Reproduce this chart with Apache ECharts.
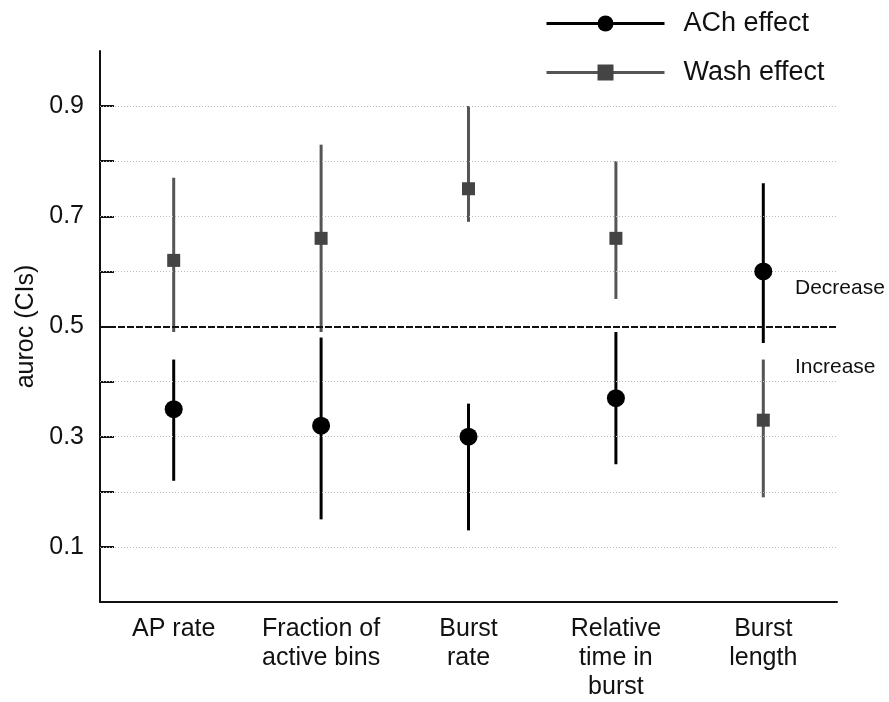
<!DOCTYPE html>
<html>
<head>
<meta charset="UTF-8">
<title>auroc</title>
<script src="https://cdn.jsdelivr.net/npm/echarts@6/dist/echarts.min.js"></script>
<style>
  html, body { margin: 0; padding: 0; background: #fff; }
  #main { width: 889px; height: 702px; }
</style>
</head>
<body>
<div id="main"></div>
<script>
// categories along x
var categories = ['AP rate', 'Fraction of\nactive bins', 'Burst\nrate', 'Relative\ntime in\nburst', 'Burst\nlength'];

// ACh effect: auroc and CI bounds
var achMid  = [0.35, 0.32, 0.30, 0.37, 0.60];
var achLow  = [0.22, 0.15, 0.13, 0.25, 0.47];
var achHigh = [0.44, 0.48, 0.36, 0.49, 0.76];

// Wash effect: auroc and CI bounds
var washMid  = [0.62, 0.66, 0.75, 0.66, 0.33];
var washLow  = [0.49, 0.49, 0.69, 0.55, 0.19];
var washHigh = [0.77, 0.83, 0.90, 0.80, 0.44];

var yTicks = [0.1, 0.2, 0.3, 0.4, 0.5, 0.6, 0.7, 0.8, 0.9];
var yLabels = [0.1, 0.3, 0.5, 0.7, 0.9];
var chance = 0.5;

var FONT = 'Liberation Sans, Arial, sans-serif';

function errBars(low, high) {
    return low.map(function (l, i) { return [i, l, high[i]]; });
}

function barRenderer(color) {
    return function (params, api) {
        var p1 = api.coord([api.value(0), api.value(1)]);
        var p2 = api.coord([api.value(0), api.value(2)]);
        return {
            type: 'line',
            shape: { x1: p1[0], y1: p1[1], x2: p2[0], y2: p2[1] },
            style: { stroke: color, lineWidth: 3 }
        };
    };
}

// dotted grid lines, skipping the chance level (drawn dashed)
var gridLines = yTicks.filter(function (v) { return v !== chance; }).map(function (v) {
    return { yAxis: v };
});

var chart = echarts.init(document.getElementById('main'));

chart.setOption({
    animation: false,
    textStyle: { fontFamily: FONT },
    grid: { left: 100, right: 52, top: 51, bottom: 99 },
    legend: {
        orient: 'vertical',
        left: 540,
        top: 5,
        itemWidth: 118,
        itemHeight: 20,
        itemGap: 22,
        data: ['ACh effect', 'Wash effect'],
        textStyle: { fontSize: 27, color: '#111', fontFamily: FONT, padding: [0, 0, 0, 14] },
        lineStyle: { opacity: 1, width: 3 },
        inactiveColor: '#ccc'
    },
    xAxis: {
        type: 'category',
        data: categories,
        boundaryGap: true,
        axisLine: { lineStyle: { color: '#111', width: 2 } },
        axisTick: { inside: true, alignWithLabel: true, length: 14, lineStyle: { color: '#111', width: 2 } },
        axisLabel: { color: '#111', fontSize: 25, lineHeight: 29, margin: 13, fontFamily: FONT, interval: 0 },
        splitLine: { show: false }
    },
    yAxis: {
        type: 'value',
        min: 0,
        max: 1,
        interval: 0.1,
        name: 'auroc (CIs)',
        nameLocation: 'middle',
        nameGap: 60,
        nameTextStyle: { fontSize: 25, color: '#111', fontFamily: FONT },
        axisLine: { show: true, lineStyle: { color: '#111', width: 2 } },
        axisTick: { show: true, inside: true, length: 14, customValues: yTicks, lineStyle: { color: '#111', width: 2 } },
        axisLabel: {
            customValues: yLabels,
            color: '#111',
            fontSize: 25,
            margin: 16,
            fontFamily: FONT,
            formatter: function (v) { return v.toFixed(1); }
        },
        splitLine: { show: false }
    },
    graphic: [
        { type: 'text', left: 795, top: 278, style: { text: 'Decrease', fill: '#111', font: '21px ' + FONT } },
        { type: 'text', left: 795, top: 357, style: { text: 'Increase', fill: '#111', font: '21px ' + FONT } }
    ],
    series: [
        {
            name: 'grid',
            type: 'line',
            data: [],
            markLine: {
                silent: true,
                symbol: 'none',
                label: { show: false },
                lineStyle: { color: '#b8b8b8', type: [1, 2], width: 1 },
                data: gridLines
            },
            z: 1
        },
        {
            name: 'chance',
            type: 'line',
            data: [],
            markLine: {
                silent: true,
                symbol: 'none',
                label: { show: false },
                lineStyle: { color: '#111', type: [7, 2], width: 2 },
                data: [{ yAxis: chance }]
            },
            z: 2
        },
        {
            name: 'ACh bars',
            type: 'custom',
            renderItem: barRenderer('#000'),
            data: errBars(achLow, achHigh),
            encode: { x: 0, y: [1, 2] },
            z: 3,
            silent: true
        },
        {
            name: 'Wash bars',
            type: 'custom',
            renderItem: barRenderer('#555'),
            data: errBars(washLow, washHigh),
            encode: { x: 0, y: [1, 2] },
            z: 3,
            silent: true
        },
        {
            name: 'ACh effect',
            type: 'line',
            data: achMid,
            symbol: 'circle',
            symbolSize: 18,
            itemStyle: { color: '#000' },
            lineStyle: { color: '#000', width: 3, opacity: 0 },
            z: 5
        },
        {
            name: 'Wash effect',
            type: 'line',
            data: washMid,
            symbol: 'rect',
            symbolSize: 13,
            itemStyle: { color: '#444' },
            lineStyle: { color: '#555', width: 3, opacity: 0 },
            z: 5
        }
    ]
});
</script>
</body>
</html>
